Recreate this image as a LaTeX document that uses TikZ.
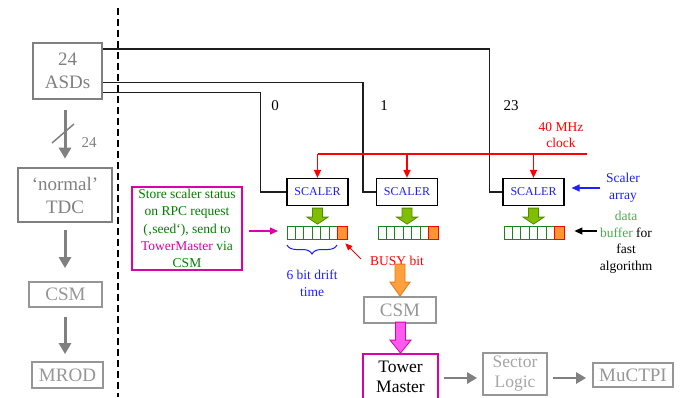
\documentclass[tikz,border=0pt]{standalone}
\usepackage{fontspec}
\setmainfont{Liberation Serif}
\usetikzlibrary{arrows.meta,calc,decorations.pathreplacing}
\definecolor{grayA}{RGB}{128,128,128}
\definecolor{grayB}{RGB}{150,150,150}
\definecolor{tmag}{RGB}{220,0,170}
\definecolor{pinkfill}{RGB}{255,90,240}
\definecolor{dgreen}{RGB}{0,125,0}
\definecolor{lgreen}{RGB}{80,170,80}
\definecolor{cellgreen}{RGB}{30,130,30}
\definecolor{busyor}{RGB}{255,150,50}
\definecolor{ygreen}{RGB}{130,190,0}
\definecolor{ygreenD}{RGB}{80,140,0}
\definecolor{orfill}{RGB}{255,160,60}
\definecolor{orline}{RGB}{230,120,20}
\definecolor{sblue}{RGB}{30,30,255}
\definecolor{wirec}{RGB}{30,30,30}
\newcommand\fsz[2]{\fontsize{#1}{#2}\selectfont}
\begin{document}
\begin{tikzpicture}[x=1pt,y=-1pt,
  bigbox/.style={draw=grayA, line width=2.6pt, text=grayA, font=\fsz{19}{23}, align=center, inner sep=0pt},
  smallbox/.style={draw=grayB, line width=1.8pt, text=grayB, font=\fsz{19}{22}, align=center, inner sep=0pt},
  scaler/.style={draw=black, line width=1.2pt, fill=white, text=sblue, font=\fsz{12}{14}, minimum width=61pt, minimum height=27pt, inner sep=0pt},
  lbl/.style={font=\fsz{13.5}{16.5}, align=center, inner sep=0pt},
  numlbl/.style={font=\fsz{15}{17}, inner sep=0pt},
  garr/.style={draw=grayA, line width=3pt, -{Triangle[width=12pt,length=11pt]}},
  wire/.style={draw=wirec, line width=1.6pt},
  clk/.style={draw=red, line width=1.5pt},
  clkarr/.style={clk, -{Triangle[width=7pt,length=8pt]}},
  cell/.style={draw=cellgreen, line width=1pt, fill=white},
  busycell/.style={draw=red, line width=1pt, fill=busyor},
  gblock/.style={fill=ygreen, draw=ygreenD, line width=0.8pt},
  oblock/.style={fill=orfill, draw=orline, line width=0.8pt},
  pblock/.style={fill=pinkfill, draw=tmag, line width=0.8pt}]
\useasboundingbox (0,0) rectangle (683,397);

% dashed separator
\draw[line width=2.5pt, dash pattern=on 7pt off 4pt] (118,8) -- (118,397);

% left column
\node[bigbox, minimum width=69pt, minimum height=56pt] (asd) at (67.5,71) {24\\ASDs};
\node[bigbox, minimum width=94pt, minimum height=54pt] (tdc) at (65,195) {‘normal’\\TDC};
\node[smallbox, minimum width=73pt, minimum height=25pt] (csm1) at (65.5,294.5) {CSM};
\node[smallbox, minimum width=71pt, minimum height=26pt] (mrod) at (67.5,375) {MROD};
\draw[garr, shorten <=10pt, shorten >=8pt] (asd.south -| 65,0) -- (tdc.north -| 65,0);
\draw[grayA, line width=1.5pt] (52,143) -- (74,124);
\node[numlbl, text=grayA] (n24) at (89,143) {24};
\draw[garr, shorten <=7pt, shorten >=13pt] (tdc.south -| 65,0) -- (csm1.north -| 65,0);
\draw[garr, shorten <=9pt, shorten >=7pt] (csm1.south -| 65,0) -- (mrod.north -| 65,0);

% scalers
\node[scaler] (s0) at (317.5,192) {SCALER};
\node[scaler] (s1) at (407,192) {SCALER};
\node[scaler] (s23) at (533.5,192) {SCALER};

% wires from ASDs
\draw[wire] ($(asd.north east)+(0,7)$) -| ($(s23.west)+(-13,0)$) -- (s23.west);
\draw[wire] ($(asd.south east)+(0,-18)$) -| ($(s1.west)+(-13,0)$) -- (s1.west);
\draw[wire] ($(asd.south east)+(0,-8)$) -| ($(s0.west)+(-26,0)$) -- (s0.west);
\node[numlbl] (l0) at (275,106) {0};
\node[numlbl] (l1) at (384,106) {1};
\node[numlbl] (l23) at (511,106) {23};

% clock
\coordinate (clkR) at (587,154);
\draw[clk] (s0.north |- clkR) -- (clkR);
\draw[clkarr] (s0.north |- clkR) -- (s0.north);
\draw[clkarr] (s1.north |- clkR) -- (s1.north);
\draw[clkarr] (s23.north |- clkR) -- (s23.north);
\node[lbl, text=red] (clklbl) at (561,135) {40 MHz\\clock};

% buffers
\foreach \bx/\nm in {287/b0, 378/b1, 504/b23}{
  \node[inner sep=0pt, minimum width=60pt, minimum height=13pt, anchor=north west] (\nm) at (\bx,226) {};
  \foreach \i in {0,...,5} \draw[cell] (\bx+\i*8.4,226) rectangle ++(8.4,13);
  \draw[busycell] (\bx+50.4,226) rectangle ++(9.6,13);
}

% green block arrows
\foreach \s in {s0,s1,s23}{
  \draw[gblock] ($(\s.south)+(0,2)$) ++(-5,0) -- ++(10,0) -- ++(0,9) -- ++(5.5,0) -- ++(-10.5,7) -- ++(-10.5,-7) -- ++(5.5,0) -- cycle;
}

% brace
\draw[sblue, line width=1pt, decorate, decoration={brace, amplitude=9pt}] (337,245) -- (287,245);
\node[lbl, text=sblue] (drift) at (312,283.5) {6 bit drift\\time};

% pink box
\node[draw=tmag, line width=1.8pt, minimum width=110pt, minimum height=83pt, text=dgreen, font=\fsz{13.5}{17.3}, align=center, inner sep=0pt] (pb) at (187,228.5)
  {Store scaler status\\on RPC request\\(‚seed‘), send to\\\textcolor{tmag}{TowerMaster} via\\CSM};
\draw[tmag, line width=1.2pt, -{Triangle[width=7pt,length=8pt]}, shorten <=6pt, shorten >=9pt] (pb.east |- 0,231) -- (b0.west |- 0,231);

% BUSY bit
\node[lbl, text=red] (busy) at (397,261) {BUSY bit};
\draw[red, line width=1pt, -{Triangle[width=6pt,length=7pt]}] ($(busy.west)+(-9,-2)$) -- ($(b0.south east)+(-2,4)$);

% middle CSM
\node[smallbox, minimum width=72pt, minimum height=26pt] (csm2) at (400,310) {CSM};
\draw[oblock] (csm2.north) -- ++(-10,-14) -- ++(5,0) -- ++(0,-18) -- ++(10,0) -- ++(0,18) -- ++(5,0) -- cycle;

% tower master
\node[draw=tmag, line width=1.8pt, minimum width=75pt, minimum height=46pt, font=\fsz{17.5}{20}, align=center, inner sep=0pt] (tm) at (400.5,377) {Tower\\Master};
\draw[pblock] (tm.north) -- ++(-10.5,-13) -- ++(5.5,0) -- ++(0,-18) -- ++(10,0) -- ++(0,18) -- ++(5.5,0) -- cycle;

% sector logic, MuCTPI
\node[smallbox, text=grayB!85!white, minimum width=64pt, minimum height=42pt, font=\fsz{17.5}{20}] (sl) at (515,374) {Sector\\Logic};
\node[smallbox, minimum width=80pt, minimum height=24pt] (mu) at (633,375) {MuCTPI};
\draw[garr, line width=2.5pt, -{Triangle[width=11pt,length=10pt]}, shorten <=5pt, shorten >=5pt] (tm.east |- 0,378) -- (sl.west |- 0,378);
\draw[garr, line width=2.5pt, -{Triangle[width=11pt,length=10pt]}, shorten <=5pt, shorten >=6pt] (sl.east |- 0,378) -- (mu.west |- 0,378);

% right labels
\node[lbl, text=sblue] (sa) at (623,188) {Scaler\\array};
\draw[sblue, line width=1.2pt, -{Triangle[width=7pt,length=8pt]}, shorten >=7pt] (600,188) -- (s23.east |- 0,188);
\node[lbl, font=\fsz{13.5}{16.5}] (db) at (626,242.5) {\textcolor{lgreen}{data}\\\textcolor{lgreen}{buffer} for\\fast\\algorithm};
\draw[black, line width=1.2pt, -{Triangle[width=7pt,length=8pt]}, shorten >=10pt] (597,231) -- (b23.east |- 0,231);
\end{tikzpicture}
\end{document}
